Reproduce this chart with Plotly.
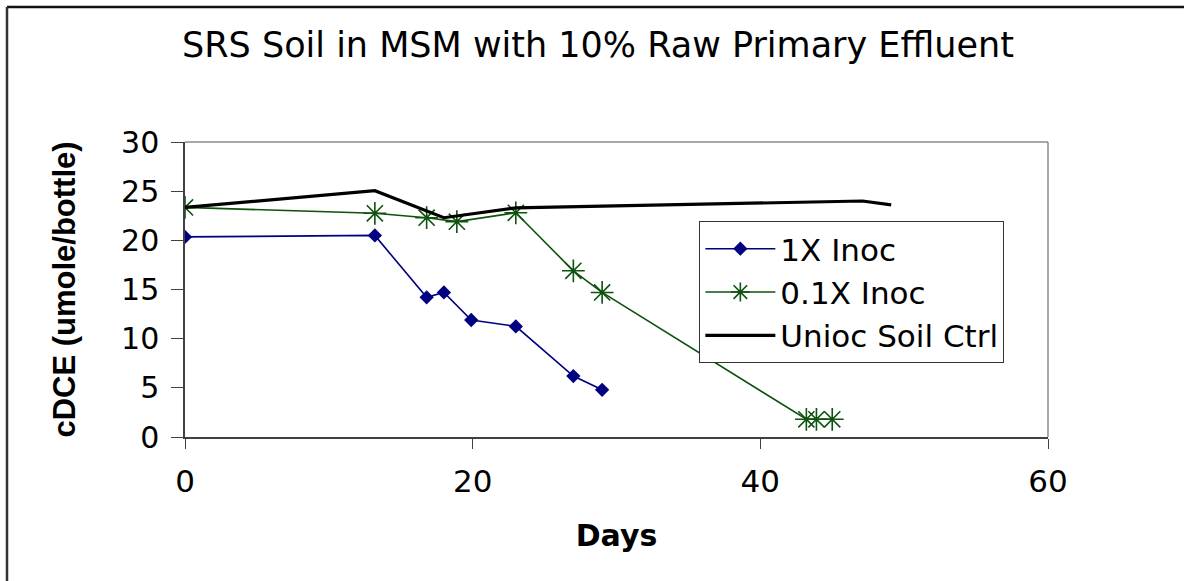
import plotly.graph_objects as go

# Days sampled and cDCE (umole/bottle) for each treatment
days_1x = [0, 13.2, 16.8, 18.0, 19.9, 23.0, 27.0, 29.0]
cdce_1x = [20.35, 20.5, 14.2, 14.7, 11.9, 11.25, 6.2, 4.8]

days_01x = [0, 13.2, 16.8, 18.9, 23.0, 27.0, 29.0, 43.2, 43.9, 45.0]
cdce_01x = [23.35, 22.75, 22.3, 21.9, 22.8, 16.9, 14.7, 1.8, 1.8, 1.8]

days_ctrl = [0, 13.2, 18.0, 23.0, 47.1, 49.1]
cdce_ctrl = [23.35, 25.05, 22.3, 23.3, 24.0, 23.6]

x_ticks = [0, 20, 40, 60]
y_ticks = [0, 5, 10, 15, 20, 25, 30]

WIDE = "DejaVu Sans, Verdana, sans-serif"
NARROW = "Liberation Sans, Arial, sans-serif"

fig = go.Figure()
fig.add_trace(go.Scatter(
    x=days_1x, y=cdce_1x, name="1X Inoc", mode="lines+markers",
    line=dict(color="#000080", width=1.6),
    marker=dict(symbol="diamond", size=11, color="#000080"),
))
fig.add_trace(go.Scatter(
    x=days_01x, y=cdce_01x, name="0.1X Inoc", mode="lines+markers",
    line=dict(color="#0d520d", width=1.6),
    marker=dict(symbol="asterisk-open", size=19,
                line=dict(color="#0d520d", width=1.6)),
))
fig.add_trace(go.Scatter(
    x=days_ctrl, y=cdce_ctrl, name="Unioc Soil Ctrl", mode="lines",
    line=dict(color="#000000", width=3.2),
))

fig.update_layout(
    width=1184, height=581,
    margin=dict(l=185, r=136, t=142, b=144),
    paper_bgcolor="white", plot_bgcolor="white",
    font=dict(family=WIDE, color="black"),
    title=dict(text="SRS Soil in MSM with 10% Raw Primary Effluent",
               x=598 / 1184, xref="container", xanchor="center",
               y=1 - 45 / 581, yref="container", yanchor="middle",
               font=dict(size=35, family=WIDE)),
    showlegend=True,
    legend=dict(x=0.596, y=0.732, xanchor="left", yanchor="top",
                bgcolor="white", bordercolor="#333333", borderwidth=1,
                font=dict(size=31, family=WIDE), tracegroupgap=0,
                itemwidth=70),
    xaxis=dict(range=[0, 60], tickvals=x_ticks, ticks="outside", ticklen=10,
               tickcolor="#404040", showline=True, linecolor="#404040",
               linewidth=1.5, showgrid=False, zeroline=False,
               tickfont=dict(size=31), ticklabelstandoff=6,
               title=dict(text="<b>Days</b>", font=dict(size=30), standoff=27)),
    yaxis=dict(range=[0, 30], tickvals=y_ticks, ticks="outside", ticklen=12,
               tickcolor="#404040", showline=True, linecolor="#404040",
               linewidth=1.5, showgrid=False, zeroline=False,
               tickfont=dict(size=30), ticklabelstandoff=6,
               title=dict(text="<b>cDCE (umole/bottle)</b>",
                          font=dict(size=31, family=NARROW), standoff=36)),
)

# plot-area border on the top and right edges
fig.add_shape(type="line", xref="paper", yref="paper", x0=0, x1=1, y0=1, y1=1,
              line=dict(color="#8c8c8c", width=1.5))
fig.add_shape(type="line", xref="paper", yref="paper", x0=1, x1=1, y0=0, y1=1,
              line=dict(color="#8c8c8c", width=1.5))

# outer chart frame (top and left edges)
fig.add_shape(type="line", xref="paper", yref="paper",
              x0=-178 / 863, x1=999 / 863, y0=1 + 135 / 295, y1=1 + 135 / 295,
              line=dict(color="#111111", width=2.5))
fig.add_shape(type="line", xref="paper", yref="paper",
              x0=-178 / 863, x1=-178 / 863, y0=-144 / 295, y1=1 + 135 / 295,
              line=dict(color="#333333", width=2.5))

fig.write_html("out.html")
